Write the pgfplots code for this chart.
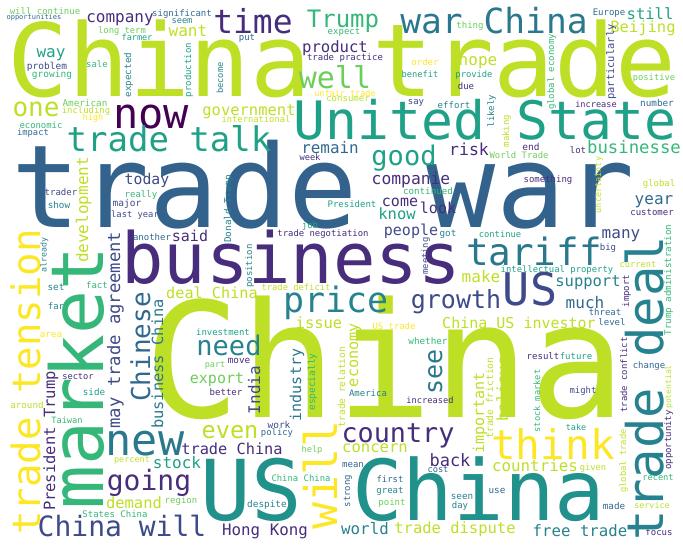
\documentclass[border=0pt]{standalone}
\usepackage{pgfplots}
\pgfplotsset{compat=1.18}
\usepackage{fontspec}
\newfontfamily\wcfont{DejaVu Sans Mono}
\definecolor{v0}{HTML}{440154}
\definecolor{v1}{HTML}{472D7B}
\definecolor{v2}{HTML}{3E4A89}
\definecolor{v3}{HTML}{31688E}
\definecolor{v35}{HTML}{2A788E}
\definecolor{v4}{HTML}{26828E}
\definecolor{v45}{HTML}{21918C}
\definecolor{v5}{HTML}{1FA187}
\definecolor{v6}{HTML}{35B779}
\definecolor{v7}{HTML}{6DCD59}
\definecolor{v8}{HTML}{BDDF26}
\definecolor{v9}{HTML}{FDE725}
\definecolor{vtw}{HTML}{33638D}
\begin{document}
\begin{tikzpicture}
\begin{axis}[width=683pt,height=550pt,scale only axis,
  xmin=0,xmax=683,ymin=0,ymax=550,y dir=reverse,hide axis,clip=false]
\addplot[draw=none, mark=none,
  nodes near coords={\word},
  visualization depends on={value \thisrow{word} \as \word},
  visualization depends on={value \thisrow{fs} \as \fs},
  visualization depends on={value \thisrow{rot} \as \rot},
  visualization depends on={value \thisrow{col} \as \col},
  every node near coord/.append style={anchor=base, inner sep=0pt, outer sep=0pt,
    rotate=\rot, text=\col, font=\wcfont\fontsize{\fs}{\fs}\selectfont},
] table[x=x, y=y, col sep=comma] {
word,x,y,fs,rot,col
China trade,342,96,101,0,v8
trade war,323,227,115,0,vtw
China,385,417,160,0,v8
business,291,283,70.5,0,v1
US China,403,520,84,0,v45
United State,485,139,53,0,v5
war China,494,33,34.6,0,v35
time,253,33,33,0,v1
now,151,128,42,0,v0
one,36,116,26,0,v8
trade talk,169,151,34,0,v5
company,120,22,16,0,v1
significant,182,16,9,0,v3
will continue,45,14,9,0,v7
opportunities,34,19,7,0,v3
seem,182,23,8.7,0,v4
want,188,36,16,0,v8
long term,122,33,8.8,0,v7
farmer,137,40,8.5,0,v5
way,51,57,16,0,v5
problem,47,69,9.5,0,v2
growing,52,77,9.5,0,v6
sale,97,67,9,0,v6
American,85,106,9.3,0,v7
including,86,113,8.9,0,v8
high,93,120,8.7,0,v9
economic,41,128,8.9,0,v6
impact,33,135,8.8,0,v3
government,249,115,15.5,0,v8
international,256,122,8.8,0,v8
today,147,184,14.8,0,v2
trader,61,195,9,0,v2
show,59,208,9.3,0,v4
really,141,197,9,0,v6
major,127,206,9.5,0,v2
last year,135,217,8.8,0,v2
another,152,240,9,0,v3
said,190,241,15,0,v1
set,56,290,9.4,0,v4
fact,97,288,9,0,v6
far,56,309,9,0,v4
area,51,337,9.3,0,v9
deal China,212,298,15.2,0,v8
investment,223,335,8.9,0,v5
need,229,355,27,0,v4
move,239,363,9.3,0,v1
part,215,367,8.5,0,v7
export,217,383,15,0,v7
better,226,395,9,0,v1
even,230,438,23.5,0,v8
work,279,428,9.5,0,v2
policy,277,435,8.9,0,v3
trade China,232,454,15.3,0,v1
new,145,455,43.5,0,v35
stock,177,468,16,0,v5
percent,132,462,8.5,0,v8
going,149,490,28,0,v1
demand,134,508,15.5,0,v8
region,181,503,9,0,v7
States China,115,517,9,0,v6
China will,122,536,28,0,v2
sector,78,379,8.7,0,v1
side,94,395,9.3,0,v5
around,27,408,9.2,0,v8
Taiwan,67,423,8.7,0,v6
Hong Kong,265,535,15.8,0,v1
help,312,452,8.7,0,v7
China China,301,481,8.9,0,v6
despite,267,507,9.4,0,v4
country,398,442,26.8,0,v1
concern,375,452,15.6,0,v8
back,450,466,17,0,v1
mean,353,467,9,0,v3
cost,438,472,8.7,0,v3
first,390,482,8.9,0,v3
great,390,493,9,0,v4
point,392,505,9,0,v7
seen,462,499,9.3,0,v4
day,460,508,9,0,v4
world,365,534,15.8,0,v4
trade dispute,455,533,15.5,0,v8
think,553,459,41,0,v9
might,583,393,8.9,0,v2
take,576,430,8.5,0,v5
countries,535,471,15.8,0,v8
given,593,470,8.8,0,v8
use,497,493,9.3,0,v3
made,614,509,9.3,0,v3
free trade,580,536,15.7,0,v4
change,649,368,9,0,v3
recent,658,480,8.7,0,v6
service,652,508,8.4,0,v8
focus,659,535,9,0,v1
price,336,312,35,0,v4
growth,456,308,25,0,v2
issue,319,328,15.5,0,v8
US trade,394,329,8.9,0,v9
China US investor,519,328,15,0,v8
whether,428,344,9.3,0,v6
America,368,396,9,0,v4
increased,430,403,8.7,0,v1
companie,411,184,16.3,0,v1
continued,428,194,9.2,0,v6
President,352,207,9,0,v5
come,400,206,15,0,v1
look,438,213,15,0,v1
know,397,219,15.5,0,v5
job,310,228,9,0,v5
trade negotiation,323,236,8.9,0,v1
people,411,235,15,0,v2
got,448,236,9.3,0,v4
trade deficit,296,290,8.8,0,v8
US,530,305,45,0,v2
tariff,534,265,37.6,0,v35
continue,500,237,8.8,0,v5
many,621,238,16,0,v2
big,608,250,9,0,v2
year,654,204,16,0,v3
customer,652,215,9,0,v1
global,659,186,9,0,v8
something,548,182,9,0,v1
current,638,267,8.7,0,v8
intellectual property,557,272,8.9,0,v5
make,481,282,16,0,v8
support,588,286,15.5,0,v4
much,585,308,16,0,v3
threat,605,315,9,0,v3
level,612,325,9,0,v3
result,543,359,9,0,v1
future,576,359,9,0,v5
hope,478,65,16,0,v8
provide,474,77,8.8,0,v5
due,466,89,9,0,v1
effort,454,108,9,0,v4
positive,654,80,8.8,0,v7
increase,596,107,8.6,0,v1
number,657,106,9.3,0,v3
risk,469,155,16.5,0,v1
World Trade,519,158,8.9,0,v7
end,531,150,9.5,0,v1
lot,578,153,9,0,v1
businesse,634,153,17.3,0,v6
still,650,19,15.5,0,v5
Europe,609,15,9,0,v3
Beijing,643,32,15.5,0,v8
thing,470,28,9,0,v7
Trump,343,27,24,0,v6
expect,344,34,9,0,v6
put,247,40,9,0,v3
product,335,52,15.6,0,v1
trade practice,345,60,9,0,v1
order,425,65,9,0,v9
benefit,420,77,8.7,0,v5
well,335,88,30,0,v7
unfair trade,345,96,8.5,0,v9
consumer,348,101,9,0,v8
say,416,104,9,0,v2
remain,330,153,15.9,0,v3
good,404,165,27,0,v5
week,310,160,8.7,0,v1
trade tension,40,382,39,90,v9
market,103,378,73,90,v6
development,88,210,16,90,v8
Donald Trump,231,209,9.4,90,v4
already,46.5,255,8.3,90,v4
may trade agreement,120,330,17.2,90,v2
Chinese,150,347,26,90,v3
business China,163,364,15.4,90,v35
India,260,390,16,90,v2
industry,301,385,15,90,v35
President Trump,55,441,15.5,90,v1
will,337,475,45,90,v9
strong,350,491,9,90,v3
important,484,413,15,90,v8
trade friction,493,398,9.6,90,v8
believe,508,389,15.3,90,v8
stock market,540,401,8.7,90,v6
trade conflict,627,375,8.9,90,v1
trade deal,663,388,50.5,90,v4
opportunity,671,440,9,90,v1
potential,671,387,8,90,v8
global trade,626,461,8.8,90,v8
economy,358,355,15.2,90,v8
trade relation,345,387,9.5,90,v8
especially,315,382,9.5,90,v6
see,442,372,25,90,v35
meeting,428,256,8.8,90,v2
position,252,266,9,90,v4
uncertainty,601,185,8.5,90,v8
Trump administration,671,280,9.2,90,v6
import,629,291,9,90,v1
likely,494,111,9,90,v4
making,509,131,9,90,v8
global economy,554,72,9,90,v6
particularly,614,62,10.4,90,v2
expected,131,75,9.3,90,v4
production,191,70,9,90,v5
become,223,78,8.7,90,v4
};
\end{axis}
\pgfresetboundingbox
\path (current axis.south west) rectangle (current axis.north east);
\end{tikzpicture}
\end{document}
